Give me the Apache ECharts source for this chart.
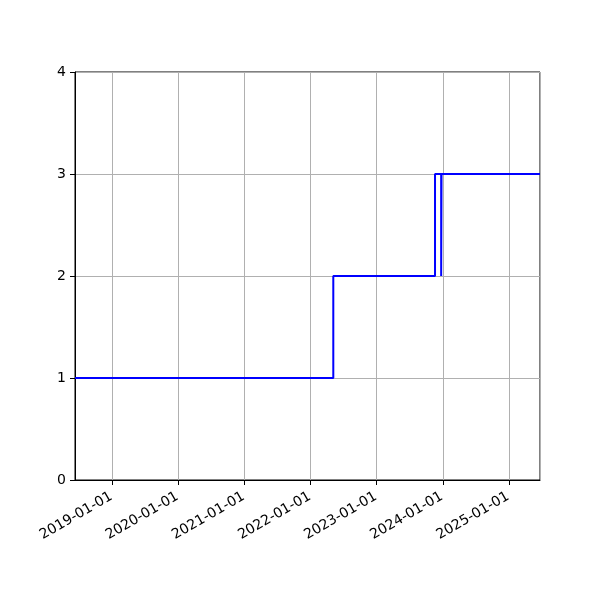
<!DOCTYPE html>
<html>
<head>
<meta charset="utf-8">
<script src="https://cdn.jsdelivr.net/npm/echarts@6/dist/echarts.min.js"></script>
<style>html,body{margin:0;padding:0;background:#fff;}#c{width:600px;height:600px;}</style>
</head>
<body>
<div id="c"></div>
<script>
const stepDates = ['2018-06-09', '2022-05-06', '2023-11-19', '2023-12-23', '2023-12-25', '2025-06-21'];
const stepValues = [1, 2, 3, 2, 3, 3];
const xMin = '2018-06-09';
const xMax = '2025-06-21';
const yTicks = [0, 1, 2, 3, 4];

const chart = echarts.init(document.getElementById('c'), null, {renderer: 'canvas'});
const YEAR = 365.25 * 24 * 3600 * 1000;
chart.setOption({
  animation: false,
  grid: {left: 75, right: 60, top: 72, bottom: 120, show: true, borderColor: '#000', borderWidth: 1, backgroundColor: 'transparent'},
  xAxis: {
    type: 'time',
    min: xMin, max: xMax,
    minInterval: YEAR * 0.99, maxInterval: YEAR * 1.01,
    axisLine: {show: true, lineStyle: {color: '#000', width: 1}},
    axisTick: {show: true, length: 5, lineStyle: {color: '#000'}},
    axisLabel: {
      rotate: 30, margin: 15, padding: [0, 1, 0, 0], color: '#000', fontSize: 14, fontFamily: 'DejaVu Sans',
      formatter: '{yyyy}-{MM}-{dd}', hideOverlap: false
    },
    splitLine: {show: true, lineStyle: {color: '#b0b0b0', width: 1}},
    minorTick: {show: false}
  },
  yAxis: {
    type: 'value',
    min: yTicks[0], max: yTicks[yTicks.length - 1], interval: 1,
    axisLine: {show: true, lineStyle: {color: '#000', width: 1}},
    axisTick: {show: true, length: 5, lineStyle: {color: '#000'}},
    axisLabel: {margin: 9, color: '#000', fontSize: 14, fontFamily: 'DejaVu Sans'},
    splitLine: {show: true, lineStyle: {color: '#b0b0b0', width: 1}}
  },
  series: [{
    type: 'line',
    step: 'end',
    data: stepDates.map((d, i) => [d, stepValues[i]]),
    showSymbol: false,
    symbol: 'none',
    lineStyle: {color: '#0000ff', width: 2},
    clip: true
  }]
});
</script>
</body>
</html>
